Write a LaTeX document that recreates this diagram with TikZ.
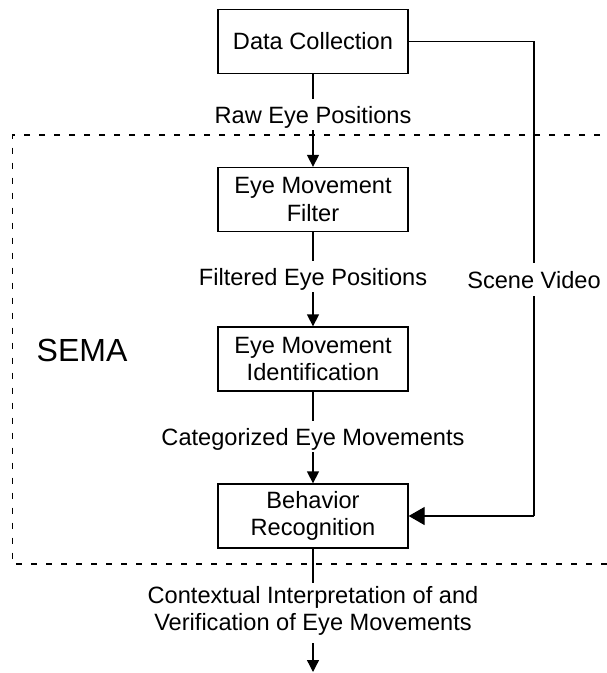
\documentclass[tikz,border=0pt]{standalone}
\usepackage{fontspec}
\setmainfont{Liberation Sans}
\usetikzlibrary{arrows.meta}
\begin{document}
\begin{tikzpicture}[x=1pt,y=-1pt,
  every node/.style={font=\fontsize{23.6}{27.5}\selectfont},
  box/.style={draw, line width=1.3pt, minimum width=190pt, minimum height=64pt, inner sep=0pt, align=center},
  lbl/.style={inner xsep=2pt, inner ysep=7pt, text height=17pt, text depth=0pt},
  conn/.style={line width=1.3pt},
  arr/.style={conn, -{Triangle[length=12pt,width=12pt]}},
  bigarr/.style={conn, -{Triangle[length=16pt,width=18pt]}},
  sema/.style={draw, line width=1.6pt, dash pattern=on 6pt off 9pt}
]
\useasboundingbox (0,0) rectangle (607,673);
% SEMA region
\draw[sema] (615,135) -- (12.5,135) -- (12.5,564) -- (615,564);
\node[font=\fontsize{32}{38}\selectfont] (sema) at (82,350) {SEMA};

% boxes
\node[box] (dc) at (313,41.5) {Data Collection};
\node[box] (emf) at (313,199.5) {Eye Movement\\Filter};
\node[box] (emi) at (313,359) {Eye Movement\\Identification};
\node[box] (br) at (313,516) {Behavior\\Recognition};

% labels
\node[lbl] (raw) at (313,114.5) {Raw Eye Positions};
\node[lbl] (filt) at (313,276.5) {Filtered Eye Positions};
\node[lbl] (cat) at (313,436.5) {Categorized Eye Movements};
\node[align=center, inner sep=0pt] (ctx) at (313,611) {Contextual Interpretation of and\\Verification of Eye Movements};
\coordinate (ctxin) at (313,583);
\coordinate (ctxout) at (313,643);
\coordinate (out) at (313,672);

% main flow
\draw[conn] (dc.south) -- (raw.north);
\draw[arr] (raw.south) -- (emf.north);
\draw[conn] (emf.south) -- (filt.north);
\draw[arr] (filt.south) -- (emi.north);
\draw[conn] (emi.south) -- (cat.north);
\draw[arr] (cat.south) -- (br.north);
\draw[conn] (br.south) -- (ctxin);
\draw[arr] (ctxout) -- (out);

% scene video
\coordinate (c1) at (534,41.5);
\coordinate (c2) at (534,516);
\draw[conn] (dc.east) -- (c1) -- (c2);
\draw[bigarr] (c2) -- (br.east);
\node[lbl, fill=white, inner ysep=8pt] (sv) at (534,279.5) {Scene Video};
\end{tikzpicture}
\end{document}
